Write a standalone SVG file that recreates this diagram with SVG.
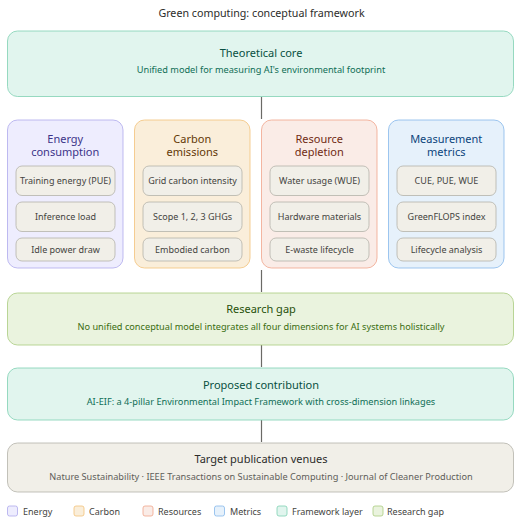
<svg xmlns="http://www.w3.org/2000/svg" width="525" height="526" viewBox="0 0 525 526">
<style>
text{font-family:"Noto Sans","Open Sans","Liberation Sans",sans-serif;}
.t{font-size:11px;text-anchor:middle;}
.s{font-size:9.2px;text-anchor:middle;}
.i{font-size:9px;text-anchor:middle;fill:#444441;}
.lg{font-size:9px;fill:#444441;}
.box{stroke-width:0.8;}
.sub{fill:#F1EFE8;stroke:#B4B2A9;stroke-width:0.8;}
.teal{fill:#E1F5EE;stroke:#7FD0B2;}
.green{fill:#EAF3DE;stroke:#A9CC7F;}
.gray{fill:#F1EFE8;stroke:#B4B2A9;}
.purple{fill:#EEEDFE;stroke:#AFA9EC;}
.amber{fill:#FAEEDA;stroke:#F2C27A;}
.coral{fill:#FAECE7;stroke:#F0A58C;}
.blue{fill:#E6F1FB;stroke:#85B7EB;}
.conn{stroke:#6B6A66;stroke-width:1.2;fill:none;}
</style>
<rect width="525" height="526" fill="#FFFFFF"/>
<text x="261.5" y="17" class="t" style="font-size:10.7px" fill="#2C2C2A">Green computing: conceptual framework</text>

<g id="connectors">
<line class="conn" x1="261.5" y1="97" x2="261.5" y2="119"/>
<line class="conn" x1="261.5" y1="270" x2="261.5" y2="292"/>
<line class="conn" x1="261.5" y1="345" x2="261.5" y2="367"/>
<line class="conn" x1="261.5" y1="420" x2="261.5" y2="442"/>
</g>

<g id="theoretical-core">
<rect class="box teal" x="7.5" y="31" width="506" height="65.5" rx="10"/>
<text x="261" y="57" class="t" fill="#085041">Theoretical core</text>
<text x="261" y="72.5" class="s" fill="#0F6E56">Unified model for measuring AI's environmental footprint</text>
</g>

<g id="energy">
<rect class="box purple" x="7.5" y="120" width="115.5" height="148" rx="10"/>
<text x="65.25" y="142.5" class="t" fill="#3C3489">Energy</text>
<text x="65.25" y="155.5" class="t" fill="#3C3489">consumption</text>
<rect class="sub" x="16" y="166" width="99" height="29.5" rx="6"/>
<text x="65.5" y="184" class="i">Training energy (PUE)</text>
<rect class="sub" x="16" y="202" width="99" height="29.5" rx="6"/>
<text x="65.5" y="219.5" class="i">Inference load</text>
<rect class="sub" x="16" y="238" width="99" height="23" rx="6"/>
<text x="65.5" y="252.5" class="i">Idle power draw</text>
</g>

<g id="carbon">
<rect class="box amber" x="134.5" y="120" width="115.5" height="148" rx="10"/>
<text x="192.25" y="142.5" class="t" fill="#633806">Carbon</text>
<text x="192.25" y="155.5" class="t" fill="#633806">emissions</text>
<rect class="sub" x="143" y="166" width="99" height="29.5" rx="6"/>
<text x="192.5" y="184" class="i">Grid carbon intensity</text>
<rect class="sub" x="143" y="202" width="99" height="29.5" rx="6"/>
<text x="192.5" y="219.5" class="i">Scope 1, 2, 3 GHGs</text>
<rect class="sub" x="143" y="238" width="99" height="23" rx="6"/>
<text x="192.5" y="252.5" class="i">Embodied carbon</text>
</g>

<g id="resources">
<rect class="box coral" x="261.5" y="120" width="115.5" height="148" rx="10"/>
<text x="319.25" y="142.5" class="t" fill="#712B13">Resource</text>
<text x="319.25" y="155.5" class="t" fill="#712B13">depletion</text>
<rect class="sub" x="270" y="166" width="99" height="29.5" rx="6"/>
<text x="319.5" y="184" class="i">Water usage (WUE)</text>
<rect class="sub" x="270" y="202" width="99" height="29.5" rx="6"/>
<text x="319.5" y="219.5" class="i">Hardware materials</text>
<rect class="sub" x="270" y="238" width="99" height="23" rx="6"/>
<text x="319.5" y="252.5" class="i">E-waste lifecycle</text>
</g>

<g id="metrics">
<rect class="box blue" x="388.5" y="120" width="115.5" height="148" rx="10"/>
<text x="446.25" y="142.5" class="t" fill="#0C447C">Measurement</text>
<text x="446.25" y="155.5" class="t" fill="#0C447C">metrics</text>
<rect class="sub" x="397" y="166" width="99" height="29.5" rx="6"/>
<text x="446.5" y="184" class="i">CUE, PUE, WUE</text>
<rect class="sub" x="397" y="202" width="99" height="29.5" rx="6"/>
<text x="446.5" y="219.5" class="i">GreenFLOPS index</text>
<rect class="sub" x="397" y="238" width="99" height="23" rx="6"/>
<text x="446.5" y="252.5" class="i">Lifecycle analysis</text>
</g>

<g id="research-gap">
<rect class="box green" x="7.5" y="293" width="506" height="52" rx="10"/>
<text x="261" y="313" class="t" fill="#27500A">Research gap</text>
<text x="261" y="330" class="s" fill="#3B6D11">No unified conceptual model integrates all four dimensions for AI systems holistically</text>
</g>

<g id="proposed-contribution">
<rect class="box teal" x="7.5" y="368" width="506" height="52" rx="10"/>
<text x="261" y="389" class="t" fill="#085041">Proposed contribution</text>
<text x="261" y="404.5" class="s" fill="#0F6E56">AI-EIF: a 4-pillar Environmental Impact Framework with cross-dimension linkages</text>
</g>

<g id="target-venues">
<rect class="box gray" x="7.5" y="443" width="506" height="49" rx="10"/>
<text x="261" y="462.5" class="t" fill="#2C2C2A">Target publication venues</text>
<text x="261" y="480" class="s" fill="#5F5E5A">Nature Sustainability · IEEE Transactions on Sustainable Computing · Journal of Cleaner Production</text>
</g>

<g id="legend">
<rect class="box purple" x="7.5" y="506" width="10" height="10" rx="2"/>
<text x="23" y="515" class="lg">Energy</text>
<rect class="box amber" x="74" y="506" width="10" height="10" rx="2"/>
<text x="89" y="515" class="lg">Carbon</text>
<rect class="box coral" x="143" y="506" width="10" height="10" rx="2"/>
<text x="158" y="515" class="lg">Resources</text>
<rect class="box blue" x="214.5" y="506" width="10" height="10" rx="2"/>
<text x="230" y="515" class="lg">Metrics</text>
<rect class="box teal" x="277" y="506" width="10" height="10" rx="2"/>
<text x="292" y="515" class="lg">Framework layer</text>
<rect class="box green" x="373" y="506" width="10" height="10" rx="2"/>
<text x="387" y="515" class="lg">Research gap</text>
</g>
</svg>
